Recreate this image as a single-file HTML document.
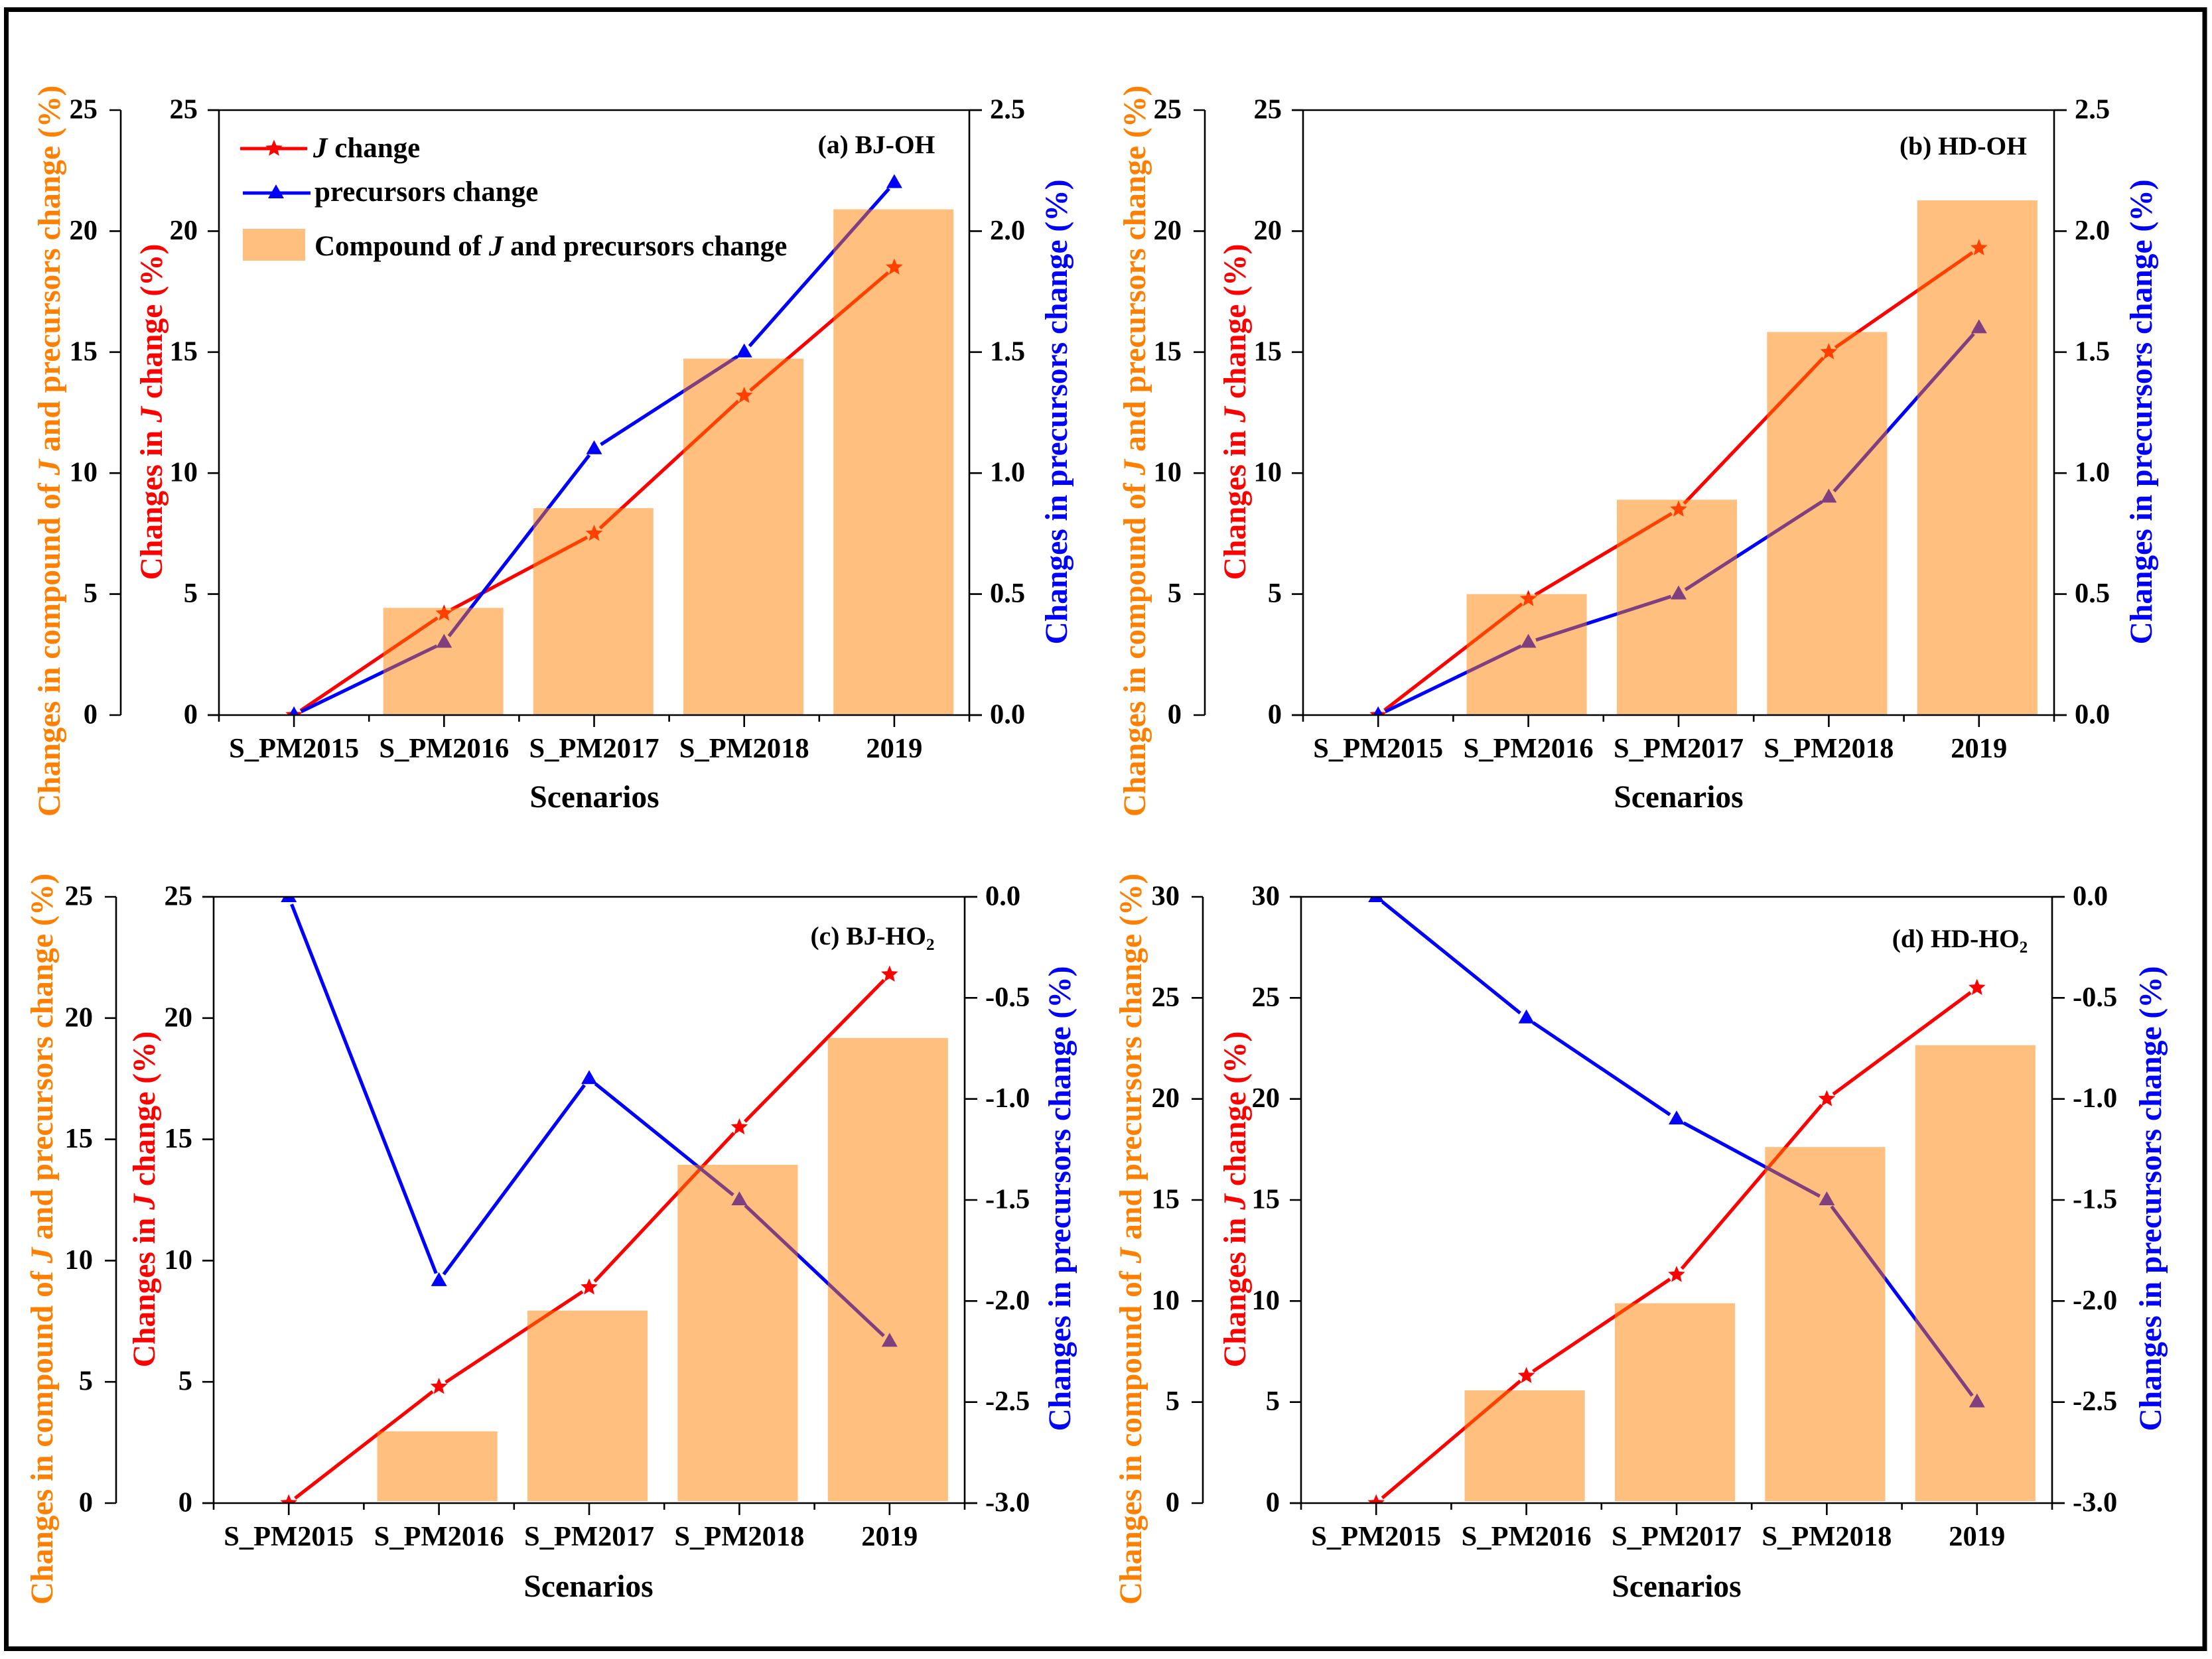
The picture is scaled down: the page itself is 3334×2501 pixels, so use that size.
<!DOCTYPE html>
<html lang="en">
<head>
<meta charset="utf-8">
<title>Changes in J, precursors and compound change</title>
<style>
html,body{margin:0;padding:0;background:#fff;}
svg{display:block;}
text{font-family:"Liberation Serif",serif;font-weight:bold;}
.tick{font-size:42.5px;fill:#000;}
.axt{font-size:47.5px;}
.leg{font-size:43px;fill:#000;}
.ptitle{font-size:39.5px;fill:#000;}
.or{fill:#FF8000;}
.rd{fill:#FF0000;}
.bl{fill:#0000FF;}
.it{font-style:italic;}
</style>
</head>
<body>
<svg id="figure" xmlns="http://www.w3.org/2000/svg" width="3334" height="2501" viewBox="0 0 3334 2501">
  <rect x="0" y="0" width="3334" height="2501" fill="#fff"/>
  <rect x="9.5" y="14.5" width="3313.5" height="2471" fill="none" stroke="#000" stroke-width="7"/>
  <defs id="defs"></defs>

  <g id="panel-a"></g>
  <g id="panel-b"></g>
  <g id="panel-c"></g>
  <g id="panel-d"></g>

  <!-- panel a text -->
  <text class="axt or" text-anchor="middle" transform="translate(90,680) rotate(-90)">Changes in compound of <tspan class="it">J</tspan> and precursors change (%)</text>
  <text class="axt rd" text-anchor="middle" transform="translate(244,621) rotate(-90)">Changes in <tspan class="it">J</tspan> change (%)</text>
  <text class="axt bl" text-anchor="middle" transform="translate(1608,621) rotate(-90)">Changes in precursors change (%)</text>
  <text class="axt" text-anchor="middle" x="896" y="1217">Scenarios</text>
  <text class="ptitle" text-anchor="middle" x="1321" y="231">(a) BJ-OH</text>

  <!-- panel b text -->
  <text class="axt or" text-anchor="middle" transform="translate(1726,680) rotate(-90)">Changes in compound of <tspan class="it">J</tspan> and precursors change (%)</text>
  <text class="axt rd" text-anchor="middle" transform="translate(1877,621) rotate(-90)">Changes in <tspan class="it">J</tspan> change (%)</text>
  <text class="axt bl" text-anchor="middle" transform="translate(3243,621) rotate(-90)">Changes in precursors change (%)</text>
  <text class="axt" text-anchor="middle" x="2530" y="1217">Scenarios</text>
  <text class="ptitle" text-anchor="middle" x="2959" y="233">(b) HD-OH</text>

  <!-- panel c text -->
  <text class="axt or" text-anchor="middle" transform="translate(79,1868) rotate(-90)">Changes in compound of <tspan class="it">J</tspan> and precursors change (%)</text>
  <text class="axt rd" text-anchor="middle" transform="translate(233,1808) rotate(-90)">Changes in <tspan class="it">J</tspan> change (%)</text>
  <text class="axt bl" text-anchor="middle" transform="translate(1613,1807) rotate(-90)">Changes in precursors change (%)</text>
  <text class="axt" text-anchor="middle" x="887" y="2407">Scenarios</text>
  <text class="ptitle" text-anchor="middle" x="1315" y="1424">(c) BJ-HO<tspan font-size="25" dy="8">2</tspan></text>

  <!-- panel d text -->
  <text class="axt or" text-anchor="middle" transform="translate(1720,1868) rotate(-90)">Changes in compound of <tspan class="it">J</tspan> and precursors change (%)</text>
  <text class="axt rd" text-anchor="middle" transform="translate(1877,1808) rotate(-90)">Changes in <tspan class="it">J</tspan> change (%)</text>
  <text class="axt bl" text-anchor="middle" transform="translate(3257,1807) rotate(-90)">Changes in precursors change (%)</text>
  <text class="axt" text-anchor="middle" x="2527" y="2407">Scenarios</text>
  <text class="ptitle" text-anchor="middle" x="2954" y="1428">(d) HD-HO<tspan font-size="25" dy="8">2</tspan></text>

  <!-- legend in panel a -->
  <g id="legend">
    <line x1="362" y1="224" x2="463" y2="224" stroke="#FF0000" stroke-width="5"/>
    <line x1="366" y1="291" x2="468" y2="291" stroke="#0000FF" stroke-width="5"/>
    <rect x="366" y="345" width="94" height="48" fill="#FF8000" fill-opacity="0.5"/>
    <text class="leg" x="472" y="237"><tspan class="it">J</tspan> change</text>
    <text class="leg" x="474" y="303">precursors change</text>
    <text class="leg" x="474" y="385">Compound of <tspan class="it">J</tspan> and precursors change</text>
  </g>
</svg>

<script>
// ---------- shared categories and tick labels ----------
const categories = ['S_PM2015', 'S_PM2016', 'S_PM2017', 'S_PM2018', '2019'];
const ticksTo25 = ['0', '5', '10', '15', '20', '25'];
const ticksTo30 = ['0', '5', '10', '15', '20', '25', '30'];
const ticksOH = ['0.0', '0.5', '1.0', '1.5', '2.0', '2.5'];
const ticksHO2 = ['-3.0', '-2.5', '-2.0', '-1.5', '-1.0', '-0.5', '0.0'];

// ---------- series values ----------
const jChangeA = [0, 4.2, 7.5, 13.2, 18.5];
const precursorsA = [0, 0.3, 1.1, 1.5, 2.2];
const compoundA = [null, 4.43, 8.55, 14.73, 20.9];

const jChangeB = [0, 4.8, 8.5, 15, 19.3];
const precursorsB = [0, 0.3, 0.5, 0.9, 1.6];
const compoundB = [null, 5.0, 8.9, 15.83, 21.27];

const jChangeC = [0, 4.8, 8.9, 15.5, 21.8];
const precursorsC = [0, -1.9, -0.9, -1.5, -2.2];
const compoundC = [null, 2.96, 7.94, 13.95, 19.18];

const jChangeD = [0, 6.3, 11.3, 20, 25.5];
const precursorsD = [0, -0.6, -1.1, -1.5, -2.5];
const compoundD = [null, 5.58, 9.89, 17.62, 22.66];

const SVGNS = 'http://www.w3.org/2000/svg';
const RED = '#FF0000';
const BLUE = '#0000FF';

function make(tag, attrs, parent) {
  const node = document.createElementNS(SVGNS, tag);
  for (const k in attrs) node.setAttribute(k, attrs[k]);
  parent.appendChild(node);
  return node;
}
function starPoints(x, y) {
  const pts = [];
  for (let i = 0; i < 10; i++) {
    const r = i % 2 === 0 ? 13.5 : 6;
    const a = -Math.PI / 2 + i * Math.PI / 5;
    pts.push((x + r * Math.cos(a)).toFixed(1) + ',' + (y + r * Math.sin(a)).toFixed(1));
  }
  return pts.join(' ');
}
function trianglePoints(x, y) {
  return (x - 12) + ',' + (y + 8) + ' ' + (x + 12) + ',' + (y + 8) + ' ' + x + ',' + (y - 13);
}

function drawPanel(cfg) {
  const g = document.getElementById(cfg.id);
  const L = cfg.left, R = cfg.right, T = cfg.top, B = cfg.bottom;
  const step = (R - L) / categories.length;
  const xAt = function (i) { return L + step * (i + 0.5); };
  const yLeft = function (v) { return B - (v - cfg.leftMin) / (cfg.leftMax - cfg.leftMin) * (B - T); };
  const yRight = function (v) { return B - (v - cfg.rightMin) / (cfg.rightMax - cfg.rightMin) * (B - T); };

  // clip region
  const clip = make('clipPath', { id: 'clip-' + cfg.id }, document.getElementById('defs'));
  make('rect', { x: L, y: T, width: R - L, height: B - T }, clip);

  const marks = make('g', { 'clip-path': 'url(#clip-' + cfg.id + ')' }, g);
  
  

  function drawSeries(values, yFn, color) {
    const gap = 12;
    for (let i = 0; i < values.length - 1; i++) {
      const x0 = xAt(i), y0 = yFn(values[i]), x1 = xAt(i + 1), y1 = yFn(values[i + 1]);
      const d = Math.hypot(x1 - x0, y1 - y0);
      const ux = (x1 - x0) / d, uy = (y1 - y0) / d;
      const seg = make('line', {
        x1: x0 + ux * gap, y1: y0 + uy * gap, x2: x1 - ux * gap, y2: y1 - uy * gap,
        stroke: color, 'stroke-width': 5.2
      }, marks);
      
      
    }
  }

  // lines first: the translucent bars lie over them
  drawSeries(cfg.j, yLeft, RED);
  drawSeries(cfg.precursors, yRight, BLUE);

  cfg.j.forEach(function (v, i) {
    const star = make('polygon', { points: starPoints(xAt(i), yLeft(v)), fill: RED }, marks);
    
    
  });
  cfg.precursors.forEach(function (v, i) {
    const tri = make('polygon', { points: trianglePoints(xAt(i), yRight(v)), fill: BLUE }, marks);
    
    
  });

  const barW = step * 0.8;
  cfg.compound.forEach(function (v, i) {
    if (v === null) return;
    const top = yLeft(v);
    const bottom = yLeft(cfg.leftMin) - cfg.barGap;
    const bar = make('rect', {
      x: xAt(i) - barW / 2 + cfg.barShift, y: top, width: barW, height: bottom - top,
      fill: '#FF8000', 'fill-opacity': 0.5
    }, g);
    
    
  });

  const sw = 2.6;
  function axisLine(x1, y1, x2, y2, name) {
    const ln = make('line', { x1: x1, y1: y1, x2: x2, y2: y2, stroke: '#000', 'stroke-width': sw }, g);
    
    
  }

  // plot box
  axisLine(L - 17, T, R + 19, T, 'top-axis-line');
  axisLine(L - 17, B, R + 19, B, 'x-axis-line');
  axisLine(L, T, L, B + 10, 'j-y-axis-line');
  axisLine(R, T, R, B + 10, 'precursors-y-axis-line');
  axisLine(cfg.outer, T, cfg.outer, B, 'compound-y-axis-line');

  // x ticks
  for (let i = 1; i < categories.length; i++) {
    axisLine(L + step * i, B, L + step * i, B + 10, 'x-minor-tick');
  }
  categories.forEach(function (c, i) {
    axisLine(xAt(i), B, xAt(i), B + 18, 'x-major-tick');
    const t = make('text', { class: 'tick', x: xAt(i), y: B + 64, 'text-anchor': 'middle' }, g);
    t.textContent = c;
    
    
  });

  // left axes share one scale
  cfg.leftTicks.forEach(function (lab) {
    const y = yLeft(parseFloat(lab));
    axisLine(L - 17, y, L, y, 'j-y-tick');
    axisLine(cfg.outer - 17, y, cfg.outer, y, 'compound-y-tick');
    const a = make('text', { class: 'tick', x: L - 32, y: y + 12.5, 'text-anchor': 'end' }, g);
    a.textContent = lab;
    
    
    const b = make('text', { class: 'tick', x: cfg.outer - 35, y: y + 12.5, 'text-anchor': 'end' }, g);
    b.textContent = lab;
    
    
  });

  // right axis
  cfg.rightTicks.forEach(function (lab) {
    const y = yRight(parseFloat(lab));
    axisLine(R, y, R + 19, y, 'precursors-y-tick');
    const t = make('text', { class: 'tick', x: R + 31, y: y + 12.5, 'text-anchor': 'start' }, g);
    t.textContent = lab;
    
    
  });
}

drawPanel({ id: 'panel-a', left: 330, right: 1461, top: 166, bottom: 1078, outer: 182, barGap: 0, barShift: -1.2,
  leftMin: 0, leftMax: 25, rightMin: 0, rightMax: 2.5,
  leftTicks: ticksTo25, rightTicks: ticksOH, j: jChangeA, precursors: precursorsA, compound: compoundA });
drawPanel({ id: 'panel-b', left: 1964, right: 3096, top: 166, bottom: 1078, outer: 1816, barGap: 0, barShift: -2.5,
  leftMin: 0, leftMax: 25, rightMin: 0, rightMax: 2.5,
  leftTicks: ticksTo25, rightTicks: ticksOH, j: jChangeB, precursors: precursorsB, compound: compoundB });
drawPanel({ id: 'panel-c', left: 322, right: 1454, top: 1352, bottom: 2266, outer: 175, barGap: 3, barShift: -2.5,
  leftMin: 0, leftMax: 25, rightMin: -3, rightMax: 0,
  leftTicks: ticksTo25, rightTicks: ticksHO2, j: jChangeC, precursors: precursorsC, compound: compoundC });
drawPanel({ id: 'panel-d', left: 1961, right: 3093, top: 1352, bottom: 2266, outer: 1813, barGap: 3, barShift: -2.5,
  leftMin: 0, leftMax: 30, rightMin: -3, rightMax: 0,
  leftTicks: ticksTo30, rightTicks: ticksHO2, j: jChangeD, precursors: precursorsD, compound: compoundD });

// legend markers
const legendGroup = document.getElementById('legend');
const legendStar = make('polygon', { points: starPoints(413, 224), fill: RED }, legendGroup);


const legendTriangle = make('polygon', { points: trianglePoints(416, 291), fill: BLUE }, legendGroup);


</script>
</body>
</html>
